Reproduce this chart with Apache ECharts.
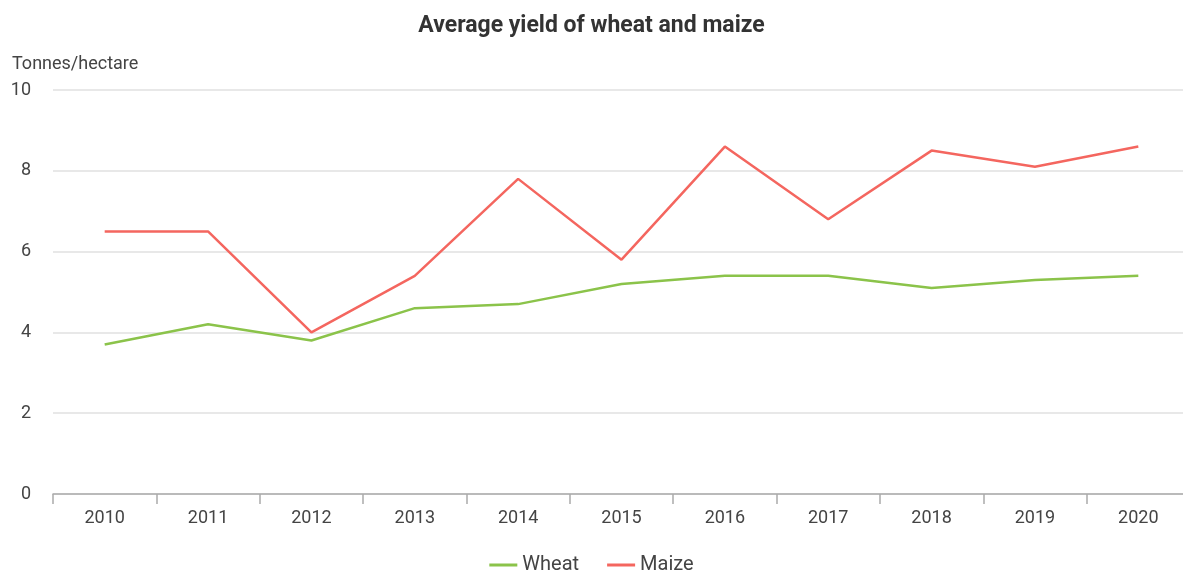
<!DOCTYPE html>
<html>
<head>
<meta charset="utf-8">
<title>Average yield of wheat and maize</title>
<script src="https://cdn.jsdelivr.net/npm/echarts@6/dist/echarts.min.js"></script>
<style>
  html, body { margin: 0; padding: 0; background: #fff; }
  #chart { width: 1183px; height: 572px; }
</style>
</head>
<body>
<div id="chart"></div>
<script>
const years = ['2010', '2011', '2012', '2013', '2014', '2015', '2016', '2017', '2018', '2019', '2020'];
const wheat = [3.7, 4.2, 3.8, 4.6, 4.7, 5.2, 5.4, 5.4, 5.1, 5.3, 5.4];
const maize = [6.5, 6.5, 4.0, 5.4, 7.8, 5.8, 8.6, 6.8, 8.5, 8.1, 8.6];

const font = 'Roboto, "Noto Sans", sans-serif';

const chart = echarts.init(document.getElementById('chart'));
chart.setOption({
  backgroundColor: '#fff',
  animation: false,
  textStyle: { fontFamily: font },
  title: [
    {
      text: 'Average yield of wheat and maize',
      left: 'center',
      top: 10,
      textStyle: { fontFamily: font, fontSize: 23, fontWeight: 'bold', color: '#333' }
    },
    {
      text: 'Tonnes/hectare',
      left: 7,
      top: 50,
      textStyle: { fontFamily: font, fontSize: 18, fontWeight: 'normal', color: '#444' }
    }
  ],
  legend: {
    top: 550,
    left: 'center',
    itemWidth: 28,
    itemHeight: 3,
    itemGap: 28,
    icon: 'rect',
    textStyle: { fontFamily: font, fontSize: 20, color: '#444' },
    data: ['Wheat', 'Maize']
  },
  grid: { left: 53, top: 90, width: 1137, height: 404, containLabel: false, outerBoundsMode: 'none' },
  xAxis: {
    type: 'category',
    data: years,
    boundaryGap: true,
    axisLine: { lineStyle: { color: '#aaa', width: 1.5 } },
    axisTick: { show: true, length: 10, alignWithLabel: false, lineStyle: { color: '#aaa', width: 1.5 } },
    axisLabel: { fontFamily: font, fontSize: 18, color: '#444', margin: 15 }
  },
  yAxis: {
    type: 'value',
    min: 0,
    max: 10,
    interval: 2,
    axisLine: { show: false },
    axisTick: { show: false },
    axisLabel: { fontFamily: font, fontSize: 18, color: '#444', margin: 22 },
    splitLine: { lineStyle: { color: '#e0e0e0', width: 1.5 } }
  },
  series: [
    {
      name: 'Wheat',
      type: 'line',
      data: wheat,
      symbol: 'none',
      color: '#8bc34a',
      lineStyle: { color: '#8bc34a', width: 2.5 }
    },
    {
      name: 'Maize',
      type: 'line',
      data: maize,
      symbol: 'none',
      color: '#f4665f',
      lineStyle: { color: '#f4665f', width: 2.5 }
    }
  ]
});
</script>
</body>
</html>
